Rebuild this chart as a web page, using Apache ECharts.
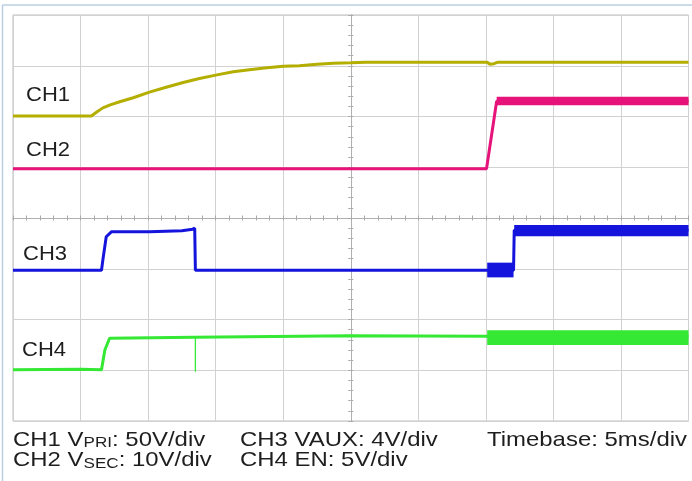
<!DOCTYPE html>
<html>
<head>
<meta charset="utf-8">
<script src="https://cdn.jsdelivr.net/npm/echarts@6/dist/echarts.min.js"></script>
<style>html,body{margin:0;padding:0;background:#fff;}#c{width:692px;height:481px;}</style>
</head>
<body>
<div id="c"></div>
<script>
// Time in ms (5 ms/div, centre = 0), amplitude in screen divisions (centre = 0)
const ch1 = [[-25,2.01],[-19.2,2.01],[-18.8,2.09],[-18.35,2.17],[-17.8,2.23],[-17.1,2.29],[-16.1,2.37],[-14.9,2.48],[-13.6,2.58],[-12.4,2.67],[-11.2,2.75],[-9.9,2.82],[-8.7,2.88],[-7.5,2.92],[-6.2,2.96],[-5.0,2.99],[-3.8,3.00],[-2.5,3.03],[-1.3,3.05],[0,3.06],[1.1,3.07],[10.1,3.07],[10.3,3.03],[10.6,3.04],[10.9,3.07],[25,3.07]];
const ch2 = [[-25,0.97],[10.05,0.97],[10.8,2.3],[25,2.3]];
const ch3 = [[-25,-1.03],[-18.45,-1.03],[-18.35,-0.83],[-18.1,-0.37],[-17.7,-0.27],[-14.9,-0.27],[-12.5,-0.25],[-11.7,-0.22],[-11.55,-0.2],[-11.5,-1.03],[10.1,-1.03],[12.05,-1.03],[12.1,-0.24],[25,-0.24]];
const ch4 = [[-25,-2.99],[-20,-2.98],[-18.45,-2.99],[-18.2,-2.6],[-17.85,-2.37],[-11.55,-2.35],[-11.45,-2.35],[0,-2.32],[10.1,-2.33],[25,-2.33]];
const ch4Glitch = [[-11.5,-2.35],[-11.5,-3.03]];
// noise envelopes: [t start, t end, low div, high div]
const ch2Noise = [[10.8,25,2.22,2.39]];
const ch3Noise = [[10.1,12.05,-1.17,-0.88],[12.1,25,-0.36,-0.14]];
const ch4Noise = [[10.1,25,-2.50,-2.21]];
const chLabels = ['CH1','CH2','CH3','CH4'];
const footer = ['CH1 V{s|PRI}: 50V/div','CH2 V{s|SEC}: 10V/div','CH3 VAUX: 4V/div','CH4 EN: 5V/div','Timebase: 5ms/div'];

const C1='#b3ae00', C2='#e6137b', C3='#1414dc', C4='#34e834';
const FONT='"Liberation Sans", Arial, Helvetica, sans-serif';

function band(data, color){
  return {type:'custom', data:data, encode:{x:[0,1], y:[2,3]}, silent:true, z:3,
    renderItem:function(params, api){
      const a = api.coord([api.value(0), api.value(3)]);
      const b = api.coord([api.value(1), api.value(2)]);
      return {type:'rect', shape:{x:a[0], y:a[1], width:b[0]-a[0], height:b[1]-a[1]}, style:{fill:color}};
    }};
}
function trace(data, color, w){
  return {type:'line', data:data, showSymbol:false, symbol:'none', silent:true, z:3,
    lineStyle:{color:color, width:w||3}};
}
function xAx(pos){
  return {type:'value', min:-25, max:25, interval:5, position:pos,
    axisLabel:{show:false},
    splitLine:{show:pos==='bottom', lineStyle:{color:'#d2d2d2', width:1}},
    axisLine:{show:true, onZero:true, lineStyle:{color:'#b0b0b0', width:1}},
    axisTick:{show:true, length:2.5, lineStyle:{color:'#a8a8a8'}},
    minorTick:{show:true, splitNumber:5, length:2.5, lineStyle:{color:'#a8a8a8'}}};
}
function yAx(pos){
  return {type:'value', min:-4, max:4, interval:1, position:pos,
    axisLabel:{show:false},
    splitLine:{show:pos==='left', lineStyle:{color:'#d2d2d2', width:1}},
    axisLine:{show:true, onZero:true, lineStyle:{color:'#b0b0b0', width:1}},
    axisTick:{show:true, length:2.5, lineStyle:{color:'#a8a8a8'}},
    minorTick:{show:true, splitNumber:5, length:2.5, lineStyle:{color:'#a8a8a8'}}};
}
function txt(x, y, text, size, sx){
  return {type:'text', x:x, y:y, scaleX:sx, z:10, silent:true,
    style:{x:0, y:0, text:text, fill:'#1e1e1e', font:size+'px '+FONT, verticalAlign:'middle', align:'left',
      rich:{s:{fontSize:15, fontFamily:FONT, fill:'#1e1e1e', verticalAlign:'bottom', lineHeight:10}}}};
}

const chart = echarts.init(document.getElementById('c'), null, {renderer:'canvas'});
chart.setOption({
  animation:false,
  backgroundColor:'#ffffff',
  grid:{left:13, top:15, right:3.5, bottom:60, show:true, borderColor:'#bcbcbc', borderWidth:1},
  xAxis:[xAx('bottom'), xAx('top')],
  yAxis:[yAx('left'), yAx('right')],
  series:[
    trace(ch1, C1, 3),
    band(ch2Noise, C2), trace(ch2, C2, 3),
    band(ch3Noise, C3), trace(ch3, C3, 3),
    band(ch4Noise, C4), trace(ch4, C4, 3), trace(ch4Glitch, C4, 1.3)
  ],
  graphic:[
    {type:'line', shape:{x1:2.5, y1:5, x2:692, y2:5}, style:{stroke:'#b9cfe2', lineWidth:1.5}, silent:true},
    {type:'line', shape:{x1:2.5, y1:5, x2:2.5, y2:481}, style:{stroke:'#b9cfe2', lineWidth:1.5}, silent:true},
    txt(26, 95.5, chLabels[0], 20, 1.1),
    txt(26, 150, chLabels[1], 20, 1.1),
    txt(23, 254, chLabels[2], 20, 1.1),
    txt(22, 350, chLabels[3], 20, 1.1),
    txt(13, 440, footer[0], 21, 1.14),
    txt(13, 460.5, footer[1], 21, 1.14),
    txt(240, 440, footer[2], 21, 1.14),
    txt(240, 460.5, footer[3], 21, 1.14),
    txt(487, 440, footer[4], 21, 1.14)
  ]
});
</script>
</body>
</html>
